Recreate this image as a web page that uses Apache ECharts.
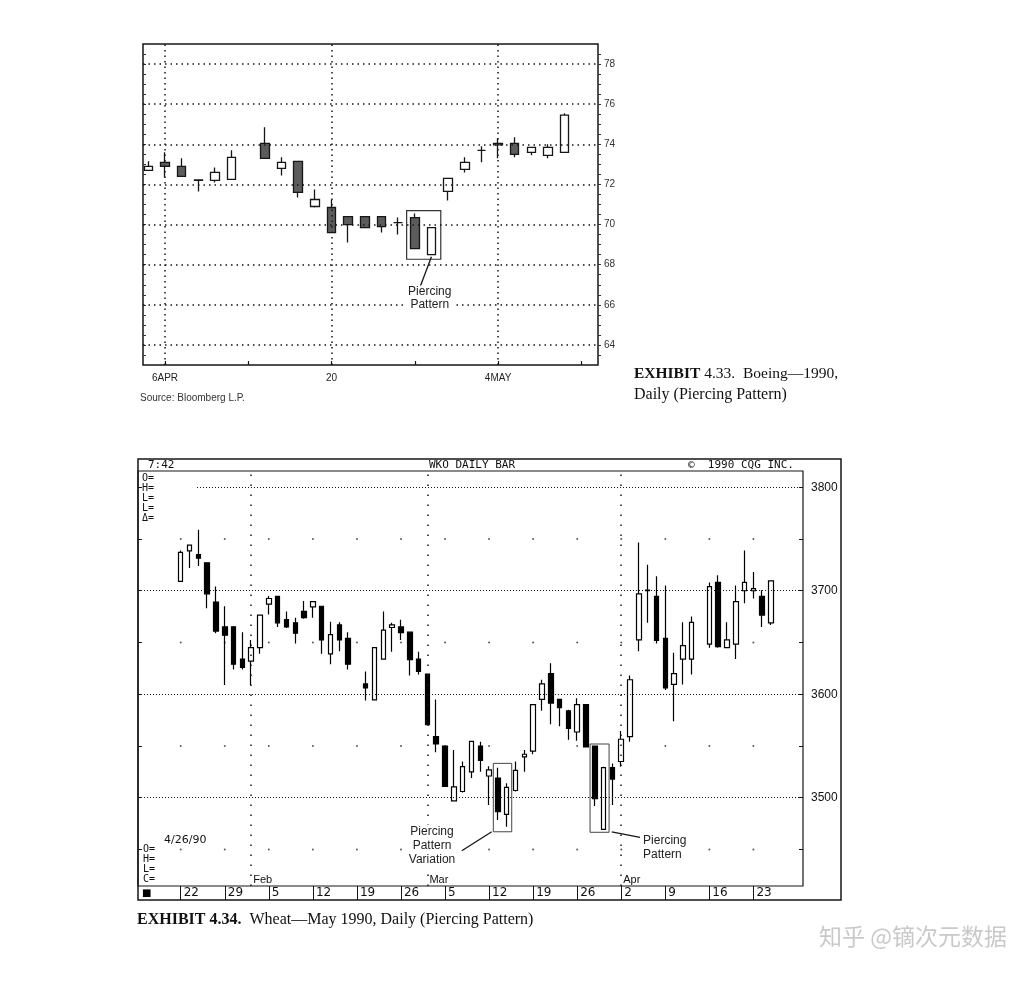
<!DOCTYPE html>
<html><head><meta charset="utf-8">
<script src="https://cdn.jsdelivr.net/npm/echarts@6/dist/echarts.min.js"></script>
<style>html,body{margin:0;padding:0;background:#fff}#c{width:1032px;height:982px}</style>
</head><body><div id="c"></div>
<script>
// ===== Exhibit 4.33  Boeing 1990 daily =====
const boeingDates = ['4/5','4/6','4/9','4/10','4/11','4/12','4/13','4/16','4/17','4/18','4/19','4/20','4/23','4/24','4/25','4/26','4/27','4/30','5/1','5/2','5/3','5/4','5/7','5/8','5/9','5/10','5/11'];
const boeingOpen  = [72.7,73.1,72.9,72.2,72.2,72.25,null,74.05,72.8,73.15,70.9,70.85,70.4,70.4,70.4,70.1,70.35,68.5,71.65,72.75,73.7,73.97,74.05,73.6,73.45,73.6,null];
const boeingClose = [72.9,72.9,72.4,72.22,72.6,73.35,null,73.3,73.1,71.6,71.25,69.6,70.0,69.85,69.9,70.1,68.8,69.85,72.3,73.1,73.7,74.05,73.5,73.85,73.85,75.45,null];
const boeingLow   = [72.7,72.35,72.4,71.65,72.1,72.25,null,73.3,72.45,71.35,70.85,69.6,69.1,69.85,69.6,69.5,68.8,68.5,71.2,72.6,73.1,73.3,73.35,73.45,73.3,73.6,null];
const boeingHigh  = [73.15,73.6,73.3,72.25,72.85,73.7,null,74.85,73.35,73.15,71.75,71.25,70.4,70.4,70.4,70.35,70.55,69.85,72.3,73.35,73.9,74.3,74.35,73.85,74.0,75.55,null];
const boeingYTicks = [64,66,68,70,72,74,76,78];
const boeingWeekDates = ['4/6','4/13','4/20','4/27','5/4','5/11'];
const boeingLabelDates = ['4/6','4/20','5/4'];
const boeingLabels = ['6APR','20','4MAY'];
const boeingPatternDates = ['4/27','4/30'];

// ===== Exhibit 4.34  Wheat May 1990 daily =====
const wheatDates = ['1/22','1/23','1/24','1/25','1/26','1/29','1/30','1/31','2/1','2/2','2/5','2/6','2/7','2/8','2/9','2/12','2/13','2/14','2/15','2/16','2/19','2/20','2/21','2/22','2/23','2/26','2/27','2/28','3/1','3/2','3/5','3/6','3/7','3/8','3/9','3/12','3/13','3/14','3/15','3/16','3/19','3/20','3/21','3/22','3/23','3/26','3/27','3/28','3/29','3/30','4/2','4/3','4/4','4/5','4/6','4/9','4/10','4/11','4/12','4/13','4/16','4/17','4/18','4/19','4/20','4/23','4/24','4/25'];
const wheatOpen  = [3709,3738.5,3735,3727,3689, 3665,3665,3634,3632,3645, 3687,3694.5,3672,3669,3680, 3684.5,3685,3639,3667,3654, null,3610,3594.5,3634,3664.5, 3665,3660,3634,3619.5,3559, 3550,3497,3506,3525,3550, 3521,3519,3484,3507,3539.5, 3545,3595,3620,3595,3584, 3563.5,3590,3550,3469.5,3529, 3535,3559,3652.5,3700,3694.5, 3654,3609.5,3634,3634,null, 3648.5,3708,3645,3648.5,3700, 3700,3694.5,3669];
const wheatClose = [3737,3744,3731.5,3697,3661, 3657,3629,3626,3645,3676.5, 3692.5,3669,3665,3659,3674, 3689.5,3652.5,3657.5,3652.5,3629, null,3606,3645,3662,3667, 3659.5,3633.5,3622,3570.5,3552, 3511,3510.5,3530,3554.5,3536, 3527,3486.5,3510,3526.5,3542, 3590,3610,3591.5,3587,3567, 3590,3549,3499,3529,3518, 3556.5,3614,3697,3700.5,3652, 3606,3620,3647,3669.5,null, 3704,3646,3652.5,3689.5,3708, 3702,3676.5,3709.5];
const wheatLow   = [3709,3722,3724,3683,3659, 3609,3624,3624,3609,3639, 3677,3665,3664,3649,3673, 3674,3639,3629,3641.5,3624, null,3594,3594,3634,3641, 3652.5,3618,3619,3570,3544, 3510.5,3497,3505,3519,3525, 3493,3478.5,3472,3506,3525, 3542,3584,3571,3569,3556, 3555,3549,3492,3469,3493, 3530,3554,3641.5,3669,3649, 3604,3574,3609.5,3619,null, 3645,3645,3644.5,3634,3688, 3692.5,3665,3667];
const wheatHigh  = [3739,3744,3759,3727,3704, 3685,3666,3660,3652.5,3677, 3695,3695,3680,3674,3690, 3690,3685,3670,3669.5,3660, null,3622,3645,3680,3669, 3672,3660,3641,3620,3595, 3550,3546,3535,3555,3554, 3530.5,3529,3514,3535,3546, 3590,3614,3630,3595.5,3585, 3596,3590,3550,3530,3533, 3564.5,3618,3746.5,3725,3714, 3705,3640,3669.5,3675,null, 3708,3715,3669.5,3705,3739, 3718,3700.5,3710];
const wheatYTicks = [3500,3600,3700,3800];
const wheatMinorTicks = [3450,3500,3550,3600,3650,3700,3750,3800];
const wheatDotLevels = [3450,3550,3650,3750];
const wheatWeekDates = ['1/22','1/29','2/5','2/12','2/19','2/26','3/5','3/12','3/19','3/26','4/2','4/9','4/16','4/23'];
const wheatWeekLabels = ['22','29','5','12','19','26','5','12','19','26','2','9','16','23'];
const wheatMonthDates = ['2/1','3/1','4/2'];
const wheatMonthLabels = ['Feb','Mar','Apr'];
const wheatPatternA = ['3/13','3/14'];
const wheatPatternB = ['3/28','3/29'];

// ---------- helpers ----------
const bIdx = d => boeingDates.indexOf(d);
const wIdx = d => wheatDates.indexOf(d);
function ohlc(dates, o, c, l, h) {
  const out = [];
  dates.forEach((d, i) => { if (o[i] != null) out.push([i, o[i], c[i], l[i], h[i]]); });
  return out;
}
function lookup(idx, labels) {
  const m = {}; idx.forEach((x, k) => { m[x] = labels[k]; });
  return v => (m[Math.round(v)] !== undefined ? m[Math.round(v)] : '');
}
function halfSteps(a, b, s) { const r = []; for (let v = a; v <= b + 1e-9; v += s) r.push(+v.toFixed(2)); return r; }

const bWeekIdx = boeingWeekDates.map(bIdx);
const bLabelIdx = boeingLabelDates.map(bIdx);
const wWeekIdx = wheatWeekDates.map(wIdx);
const wMonthIdx = wheatMonthDates.map(wIdx);

const INK = '#161616';
const dotB = {color: INK, width: 1.5, type: [1.5, 4]};
const noLine = {show: false, onZero: false};
const plain = v => String(v);

const chart = echarts.init(document.getElementById('c'), null, {renderer: 'canvas'});
const option = {
  backgroundColor: '#fff',
  animation: false,
  grid: [
    {left: 143, top: 44, width: 455, height: 321, show: true, borderColor: INK, borderWidth: 1.5, backgroundColor: 'transparent'},
    {left: 138, top: 471, width: 665, height: 415, show: true, borderColor: INK, borderWidth: 1.2, backgroundColor: 'transparent'}
  ],
  xAxis: [
    {type: 'value', gridIndex: 0, min: -0.32, max: 27.0,
     axisLine: noLine, splitLine: {show: false},
     axisTick: {show: true, inside: true, length: 4, customValues: bWeekIdx, lineStyle: {color: INK, width: 1.2}},
     axisLabel: {customValues: bLabelIdx, formatter: lookup(bLabelIdx, boeingLabels), margin: 8, fontSize: 10, color: '#222', fontFamily: 'Liberation Sans'}},
    {type: 'value', gridIndex: 1, min: -4.85, max: 70.63,
     axisLine: noLine, splitLine: {show: false},
     axisTick: {show: true, inside: false, length: 14, customValues: wWeekIdx, lineStyle: {color: INK, width: 1}},
     axisLabel: {customValues: wWeekIdx, formatter: lookup(wWeekIdx, wheatWeekLabels), align: 'left', margin: 1, padding: [0, 0, 0, 3], fontSize: 12, color: '#111', fontFamily: 'DejaVu Sans'}},
    {type: 'value', gridIndex: 1, min: -4.85, max: 70.63, position: 'bottom',
     axisLine: noLine, splitLine: {show: false}, axisTick: {show: false},
     axisLabel: {inside: true, customValues: wMonthIdx, formatter: lookup(wMonthIdx, wheatMonthLabels), align: 'left', margin: 1, padding: [0, 0, 0, 2], fontSize: 11, color: '#111', fontFamily: 'Liberation Sans'}}
  ],
  yAxis: [
    {type: 'value', gridIndex: 0, position: 'right', min: 63, max: 79,
     axisLine: noLine, splitLine: {show: false},
     axisTick: {show: true, length: 3, customValues: halfSteps(63.5, 78.5, 0.5), lineStyle: {color: '#333'}},
     axisLabel: {customValues: boeingYTicks, formatter: plain, margin: 6, fontSize: 10, color: '#333', fontFamily: 'Liberation Sans'}},
    {type: 'value', gridIndex: 0, position: 'left', min: 63, max: 79,
     axisLine: noLine, splitLine: {show: false},
     axisTick: {show: true, inside: true, length: 3, customValues: halfSteps(63.5, 78.5, 0.5), lineStyle: {color: '#333'}},
     axisLabel: {show: false}},
    {type: 'value', gridIndex: 1, position: 'right', min: 3414.7, max: 3815.7,
     axisLine: noLine, splitLine: {show: false},
     axisTick: {show: true, inside: true, length: 4, customValues: wheatMinorTicks, lineStyle: {color: INK}},
     axisLabel: {customValues: wheatYTicks, formatter: plain, margin: 8, fontSize: 12, color: '#111', fontFamily: 'Liberation Sans'}},
    {type: 'value', gridIndex: 1, position: 'left', min: 3414.7, max: 3815.7,
     axisLine: noLine, splitLine: {show: false},
     axisTick: {show: true, inside: true, length: 4, customValues: wheatMinorTicks, lineStyle: {color: INK}},
     axisLabel: {show: false}}
  ],
  series: [
    // Boeing dotted grid
    {type: 'line', xAxisIndex: 0, yAxisIndex: 0, data: [], silent: true, z: 1,
     markLine: {silent: true, symbol: ['none', 'none'], label: {show: false}, lineStyle: dotB, animation: false,
       data: boeingYTicks.map(v => ({yAxis: v})).concat(bLabelIdx.map(x => ({xAxis: x})))}},
    // Boeing candles
    {type: 'candlestick', xAxisIndex: 0, yAxisIndex: 0, z: 3, barWidth: 9,
     encode: {x: 0, y: [1, 2, 3, 4]},
     itemStyle: {color: '#fff', color0: '#5c5c5c', borderColor: INK, borderColor0: INK, borderColorDoji: INK, borderWidth: 1.3},
     data: ohlc(boeingDates, boeingOpen, boeingClose, boeingLow, boeingHigh)},
    // Boeing annotation
    {type: 'line', xAxisIndex: 0, yAxisIndex: 0, data: [], silent: true, z: 4,
     markArea: {silent: true, itemStyle: {color: 'rgba(0,0,0,0)', borderColor: '#333', borderWidth: 1.2},
       data: [[{coord: [bIdx(boeingPatternDates[0]) - 0.49, 70.69]}, {coord: [bIdx(boeingPatternDates[1]) + 0.56, 68.27]}]]},
     markLine: {silent: true, symbol: ['none', 'arrow'], symbolSize: [0, 7], label: {show: false}, lineStyle: {color: INK, width: 1.3, type: 'solid'},
       data: [[{coord: [16.32, 66.9]}, {coord: [17.0, 68.4]}]]},
     markPoint: {silent: true, symbol: 'circle', symbolSize: 1, itemStyle: {color: 'rgba(0,0,0,0)'},
       label: {show: true, position: 'inside', formatter: 'Piercing\nPattern', fontSize: 12, lineHeight: 13, color: '#222', fontFamily: 'Liberation Sans',
               backgroundColor: '#fff', padding: [0, 2]},
       data: [{coord: [16.9, 66.31]}]}},

    // Wheat dot grid + dotted lines
    {type: 'scatter', xAxisIndex: 1, yAxisIndex: 2, silent: true, z: 1, symbolSize: 2, itemStyle: {color: '#333'},
     data: wheatDotLevels.flatMap(lv => wWeekIdx.map(x => [x, lv])),
     markLine: {silent: true, symbol: ['none', 'none'], label: {show: false}, lineStyle: {color: INK, width: 1, type: [1, 2]},
       data: [{yAxis: 3500}, {yAxis: 3600}, {yAxis: 3700},
              [{coord: [1.85, 3800]}, {coord: [70.63, 3800]}]].concat(
              wMonthIdx.map(x => ({xAxis: x, lineStyle: {color: INK, width: 1.5, type: [1.5, 8.5]}})))}},
    // Wheat candles
    {type: 'candlestick', xAxisIndex: 1, yAxisIndex: 2, z: 3, barWidth: 5,
     encode: {x: 0, y: [1, 2, 3, 4]},
     itemStyle: {color: '#fff', color0: '#000', borderColor: '#000', borderColor0: '#000', borderColorDoji: '#000', borderWidth: 1.2},
     data: ohlc(wheatDates, wheatOpen, wheatClose, wheatLow, wheatHigh)},
    // Wheat annotations
    {type: 'line', xAxisIndex: 1, yAxisIndex: 2, data: [], silent: true, z: 4,
     markArea: {silent: true, itemStyle: {color: 'rgba(0,0,0,0)', borderColor: '#444', borderWidth: 1},
       data: [[{coord: [wIdx(wheatPatternA[0]) - 0.52, 3533.2]}, {coord: [wIdx(wheatPatternA[1]) + 0.57, 3467.1]}],
              [{coord: [wIdx(wheatPatternB[0]) - 0.54, 3551.9]}, {coord: [wIdx(wheatPatternB[1]) + 0.62, 3466.6]}]]},
     markLine: {silent: true, symbol: ['none', 'arrow'], symbolSize: [0, 7], label: {show: false}, lineStyle: {color: INK, width: 1.3, type: 'solid'},
       data: [[{coord: [31.9, 3448.8]}, {coord: [35.3, 3467.1]}],
              [{coord: [52.13, 3461.7]}, {coord: [48.92, 3467.1]}]]},
     markPoint: {silent: true, symbol: 'circle', symbolSize: 1, itemStyle: {color: 'rgba(0,0,0,0)'},
       label: {show: true, position: 'inside', fontSize: 12, lineHeight: 14, color: '#222', fontFamily: 'Liberation Sans',
               backgroundColor: '#fff', padding: [0, 2]},
       data: [{coord: [28.52, 3453.3], label: {formatter: 'Piercing\nPattern\nVariation'}},
              {coord: [52.25, 3451.7], label: {formatter: 'Piercing\nPattern', align: 'left'}}]}}
  ],
  graphic: [
    // Boeing texts
    {type: 'text', left: 140, top: 393, style: {text: 'Source: Bloomberg L.P.', font: '10px "Liberation Sans"', fill: '#333'}},
    {type: 'text', left: 634, top: 366, style: {text: '{b|EXHIBIT} 4.33.  Boeing—1990,', font: '15.5px "Liberation Serif"', fill: '#111',
      rich: {b: {font: 'bold 15.5px "Liberation Serif"', fill: '#111'}}}},
    {type: 'text', left: 634, top: 387, style: {text: 'Daily (Piercing Pattern)', font: '16px "Liberation Serif"', fill: '#111'}},
    // Wheat frame and header
    {type: 'rect', shape: {x: 138, y: 459, width: 703, height: 441}, style: {fill: 'none', stroke: INK, lineWidth: 1.5}, z: 10},
    {type: 'text', x: 148, y: 465, style: {text: '7:42', font: '11px "DejaVu Sans Mono"', fill: '#111', verticalAlign: 'middle'}},
    {type: 'text', x: 429, y: 465, style: {text: 'WKO DAILY BAR', font: '11px "DejaVu Sans Mono"', fill: '#111', verticalAlign: 'middle'}},
    {type: 'text', x: 688, y: 465, style: {text: '©  1990 CQG INC.', font: '11px "DejaVu Sans Mono"', fill: '#111', verticalAlign: 'middle'}},
    {type: 'text', x: 142, y: 478, style: {text: 'O=', font: '10px "DejaVu Sans Mono"', fill: '#111', verticalAlign: 'middle'}},
    {type: 'text', x: 142, y: 488, style: {text: 'H=', font: '10px "DejaVu Sans Mono"', fill: '#111', verticalAlign: 'middle'}},
    {type: 'text', x: 142, y: 498, style: {text: 'L=', font: '10px "DejaVu Sans Mono"', fill: '#111', verticalAlign: 'middle'}},
    {type: 'text', x: 142, y: 508, style: {text: 'L=', font: '10px "DejaVu Sans Mono"', fill: '#111', verticalAlign: 'middle'}},
    {type: 'text', x: 142, y: 518, style: {text: 'Δ=', font: '10px "DejaVu Sans Mono"', fill: '#111', verticalAlign: 'middle'}},
    {type: 'text', x: 164, y: 840, style: {text: '4/26/90', font: '11px "DejaVu Sans"', fill: '#111', verticalAlign: 'middle'}},
    {type: 'text', x: 143, y: 849, style: {text: 'O=', font: '10px "DejaVu Sans Mono"', fill: '#111', verticalAlign: 'middle'}},
    {type: 'text', x: 143, y: 859, style: {text: 'H=', font: '10px "DejaVu Sans Mono"', fill: '#111', verticalAlign: 'middle'}},
    {type: 'text', x: 143, y: 869, style: {text: 'L=', font: '10px "DejaVu Sans Mono"', fill: '#111', verticalAlign: 'middle'}},
    {type: 'text', x: 143, y: 879, style: {text: 'C=', font: '10px "DejaVu Sans Mono"', fill: '#111', verticalAlign: 'middle'}},
    {type: 'text', x: 142, y: 893, style: {text: '■', font: '10px "DejaVu Sans"', fill: '#000', verticalAlign: 'middle'}},
    {type: 'text', left: 137, top: 912, style: {text: '{b|EXHIBIT 4.34.}  Wheat—May 1990, Daily (Piercing Pattern)', font: '16px "Liberation Serif"', fill: '#111',
      rich: {b: {font: 'bold 16px "Liberation Serif"', fill: '#111'}}}},
    // watermark
    {type: 'text', left: 819, top: 925, style: {text: '知乎 @镝次元数据', font: '23px "Noto Sans CJK SC"', fill: '#c9c9c9'}}
  ]
};
chart.setOption(option);
</script>
</body></html>
